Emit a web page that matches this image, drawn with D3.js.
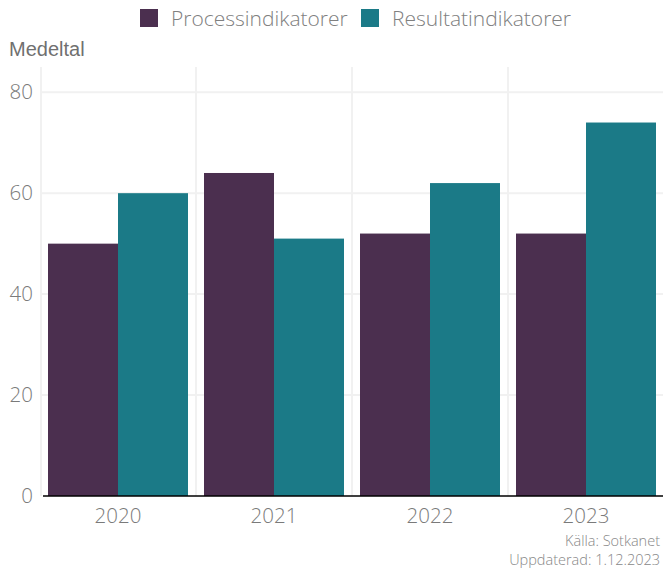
<!DOCTYPE html>
<html><head><meta charset="utf-8">
<script src="https://cdn.jsdelivr.net/npm/d3@7"></script>
<style>body{margin:0;background:#fff}svg{display:block}</style>
</head><body>
<script>
const years = ["2020","2021","2022","2023"];
const seriesNames = ["Processindikatorer","Resultatindikatorer"];
const processValues = [50,64,52,52];
const resultValues = [60,51,62,74];
const yTicks = [0,20,40,60,80];
const colors = ["#4b2f4f","#1b7a87"];

const W=663,H=569;
const m={left:40,right:-1,top:67,bottom:73};
const svg=d3.select("body").append("svg").attr("width",W).attr("height",H);
const x=d3.scaleBand().domain(years).range([m.left,W-m.right]).paddingInner(0).paddingOuter(0);
const xs=d3.scaleBand().domain(seriesNames).range([8,x.bandwidth()-8]).padding(0);
const y=d3.scaleLinear().domain([0,85]).range([H-m.bottom,m.top]);
const font="'Open Sans', Lato, sans-serif";

// grid
const g=svg.append("g");
g.selectAll("line.h").data(yTicks.filter(d=>d>0)).join("line")
 .attr("x1",m.left+2).attr("x2",W).attr("y1",d=>y(d)).attr("y2",d=>y(d))
 .attr("stroke","#f1f1f1").attr("stroke-width",2);
g.selectAll("line.v").data(years).join("line")
 .attr("x1",d=>x(d)+x.bandwidth()).attr("x2",d=>x(d)+x.bandwidth())
 .attr("y1",m.top).attr("y2",H-m.bottom).attr("stroke","#f1f1f1").attr("stroke-width",2);
g.append("line").attr("x1",x(years[0])+1).attr("x2",x(years[0])+1).attr("y1",m.top).attr("y2",H-m.bottom).attr("stroke","#f1f1f1").attr("stroke-width",2);

// bars
const data=years.map((yr,i)=>({yr,vals:[processValues[i],resultValues[i]]}));
svg.append("g").selectAll("g").data(data).join("g")
 .attr("transform",d=>`translate(${x(d.yr)},0)`)
 .selectAll("rect").data(d=>d.vals.map((v,j)=>({v,s:seriesNames[j],j}))).join("rect")
 .attr("x",d=>xs(d.s)).attr("width",xs.bandwidth())
 .attr("y",d=>y(d.v)).attr("height",d=>y(0)-y(d.v)).attr("fill",d=>colors[d.j]);

// x axis
svg.append("line").attr("x1",m.left+3).attr("x2",W).attr("y1",y(0)).attr("y2",y(0)).attr("stroke","#000").attr("stroke-width",1.5);
const xa=svg.append("g").attr("transform",`translate(0,${y(0)})`).call(d3.axisBottom(x).tickSize(0).tickPadding(0));
xa.select(".domain").remove();
xa.selectAll("text").attr("dy",null).attr("y",27).attr("font-family",font).attr("font-weight",300).attr("font-size",20.5).attr("fill","#7a7a7a");

// y axis
const ya=svg.append("g").attr("transform",`translate(${m.left},0)`).call(d3.axisLeft(y).tickValues(yTicks).tickSize(0).tickPadding(7));
ya.select(".domain").remove();
ya.selectAll("text").attr("font-family",font).attr("font-weight",300).attr("font-size",20.5).attr("fill","#7a7a7a");

svg.append("text").attr("x",9).attr("y",56).text("Medeltal")
 .attr("font-family","'Liberation Sans', Arial, sans-serif").attr("font-size",20).attr("fill","#707070");

// legend
const leg=svg.append("g");
const lx=[140,361];
seriesNames.forEach((s,i)=>{
  leg.append("rect").attr("x",lx[i]).attr("y",9).attr("width",18).attr("height",18).attr("fill",colors[i]);
  leg.append("text").attr("x",lx[i]+31).attr("y",26).text(s).attr("font-family",font).attr("font-weight",300).attr("font-size",21).attr("fill","#808080");
});

// source
const src=svg.append("g").attr("font-family",font).attr("font-weight",300).attr("font-size",14.5).attr("fill","#888").attr("text-anchor","end");
src.append("text").attr("x",660).attr("y",546).text("Källa: Sotkanet");
src.append("text").attr("x",660).attr("y",565).text("Uppdaterad: 1.12.2023");
</script>
</body></html>
